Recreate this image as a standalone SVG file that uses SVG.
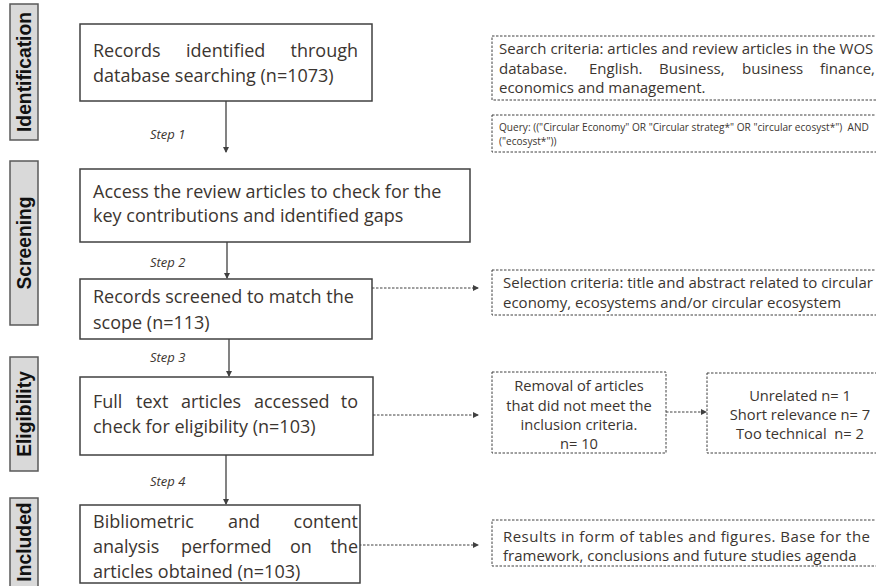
<svg xmlns="http://www.w3.org/2000/svg" width="876" height="586" viewBox="0 0 876 586">
<style>
.box{fill:#fff;stroke:#404040;stroke-width:1.5}
.dbox{fill:#fff;stroke:#404040;stroke-width:1;stroke-dasharray:2.5,1.5}
.side{fill:#d9d9d9;stroke:#595959;stroke-width:1.5}
.t{font-family:"Open Sans",sans-serif;font-size:18px;fill:#3b3530}
.s{font-family:"Open Sans",sans-serif;font-size:15px;fill:#3b3530}
.r{font-family:"Open Sans",sans-serif;font-size:14.7px;fill:#3b3530}
.q{font-family:"Open Sans",sans-serif;font-size:10.1px;fill:#3b3530}
.st{font-family:"Open Sans",sans-serif;font-size:13px;font-style:italic;fill:#3b3530}
.lab{font-family:"Liberation Sans",Arial,sans-serif;font-size:19.3px;font-weight:bold;fill:#111}
.ln{stroke:#404040;stroke-width:1.3;fill:none}
.dl{stroke:#404040;stroke-width:1;fill:none;stroke-dasharray:2.5,1.5}
</style>
<defs>
<marker id="ah" markerWidth="6" markerHeight="6" refX="5" refY="3" orient="auto" markerUnits="userSpaceOnUse">
<path d="M0,0 L6,3 L0,6 Z" fill="#404040"/>
</marker>
</defs>

<g id="side-identification"><rect class="side" x="10" y="4" width="28" height="136"/><text class="lab" transform="translate(31,72) rotate(-90)" text-anchor="middle">Identification</text></g>
<g id="side-screening"><rect class="side" x="10" y="161" width="28" height="164"/><text class="lab" transform="translate(31,243) rotate(-90)" text-anchor="middle">Screening</text></g>
<g id="side-eligibility"><rect class="side" x="10" y="357" width="28" height="114"/><text class="lab" transform="translate(31,414) rotate(-90)" text-anchor="middle">Eligibility</text></g>
<g id="side-included"><rect class="side" x="10" y="498" width="28" height="95"/><text class="lab" transform="translate(31,542) rotate(-90)" text-anchor="middle">Included</text></g>

<g id="connectors">
<line class="ln" x1="226" y1="101" x2="226" y2="152" marker-end="url(#ah)"/>
<line class="ln" x1="227" y1="242" x2="227" y2="278" marker-end="url(#ah)"/>
<line class="ln" x1="229" y1="339" x2="229" y2="376" marker-end="url(#ah)"/>
<line class="ln" x1="226" y1="455" x2="226" y2="504" marker-end="url(#ah)"/>
<line class="dl" x1="372" y1="288" x2="478" y2="288" marker-end="url(#ah)"/>
<line class="dl" x1="373" y1="415" x2="478" y2="415" marker-end="url(#ah)"/>
<line class="dl" x1="666" y1="412" x2="706" y2="412" marker-end="url(#ah)"/>
<line class="dl" x1="359" y1="545" x2="478" y2="545" marker-end="url(#ah)"/>
<text class="st" x="150" y="139">Step 1</text>
<text class="st" x="150" y="267">Step 2</text>
<text class="st" x="150" y="362">Step 3</text>
<text class="st" x="150" y="486">Step 4</text>
</g>

<g id="n1"><rect class="box" x="80" y="24" width="292" height="77"/>
<text class="t" y="57"><tspan x="93">Records</tspan><tspan x="186">identified</tspan><tspan x="358" text-anchor="end">through</tspan></text>
<text class="t" x="93" y="82">database searching (n=1073)</text></g>

<g id="n2"><rect class="box" x="80" y="169" width="390" height="73"/>
<text class="t" x="93" y="198">Access the review articles to check for the</text>
<text class="t" x="93" y="222">key contributions and identified gaps</text></g>

<g id="n3"><rect class="box" x="80" y="279" width="292" height="60"/>
<text class="t" x="93" y="303">Records screened to match the</text>
<text class="t" x="93" y="329">scope (n=113)</text></g>

<g id="n4"><rect class="box" x="80" y="377" width="293" height="78"/>
<text class="t" y="408"><tspan x="93">Full</tspan><tspan x="136">text</tspan><tspan x="181">articles</tspan><tspan x="254">accessed</tspan><tspan x="358" text-anchor="end">to</tspan></text>
<text class="t" x="93" y="433">check for eligibility (n=103)</text></g>

<g id="n5"><rect class="box" x="80" y="505" width="280" height="78"/>
<text class="t" y="528"><tspan x="93">Bibliometric</tspan><tspan x="228">and</tspan><tspan x="358" text-anchor="end">content</tspan></text>
<text class="t" y="553"><tspan x="93">analysis</tspan><tspan x="181">performed</tspan><tspan x="290">on</tspan><tspan x="358" text-anchor="end">the</tspan></text>
<text class="t" x="93" y="578">articles obtained (n=103)</text></g>

<g id="search"><rect class="dbox" x="492" y="36" width="390" height="64"/>
<text class="s" x="499" y="54">Search criteria: articles and review articles in the WOS</text>
<text class="s" y="74"><tspan x="499">database.</tspan><tspan x="589">English.</tspan><tspan x="659">Business,</tspan><tspan x="742">business</tspan><tspan x="875" text-anchor="end">finance,</tspan></text>
<text class="s" x="499" y="93">economics and management.</text></g>

<g id="query"><rect class="dbox" x="492" y="115" width="390" height="37"/>
<text class="q" x="499" y="131" xml:space="preserve">Query: (("Circular Economy" OR "Circular strateg*" OR "circular ecosyst*")  AND</text>
<text class="q" x="499" y="145">("ecosyst*"))</text></g>

<g id="selection"><rect class="dbox" x="492" y="270" width="390" height="45"/>
<text class="s" x="503" y="288">Selection criteria: title and abstract related to circular</text>
<text class="s" x="503" y="308">economy, ecosystems and/or circular ecosystem</text></g>

<g id="removal"><rect class="dbox" x="492" y="372" width="174" height="81"/>
<text class="r" text-anchor="middle" x="579" y="391">Removal of articles</text>
<text class="r" text-anchor="middle" x="579" y="411">that did not meet the</text>
<text class="r" text-anchor="middle" x="579" y="430">inclusion criteria.</text>
<text class="r" text-anchor="middle" x="579" y="449">n= 10</text></g>

<g id="reasons"><rect class="dbox" x="707" y="373" width="175" height="80"/>
<text class="r" text-anchor="middle" x="800" y="401">Unrelated n= 1</text>
<text class="r" text-anchor="middle" x="800" y="420">Short relevance n= 7</text>
<text class="r" text-anchor="middle" x="800" y="439" xml:space="preserve">Too technical  n= 2</text></g>

<g id="results"><rect class="dbox" x="492" y="520" width="390" height="46"/>
<text class="s" x="503" y="542" textLength="367" lengthAdjust="spacing">Results in form of tables and figures. Base for the</text>
<text class="s" x="503" y="561">framework, conclusions and future studies agenda</text></g>
</svg>
